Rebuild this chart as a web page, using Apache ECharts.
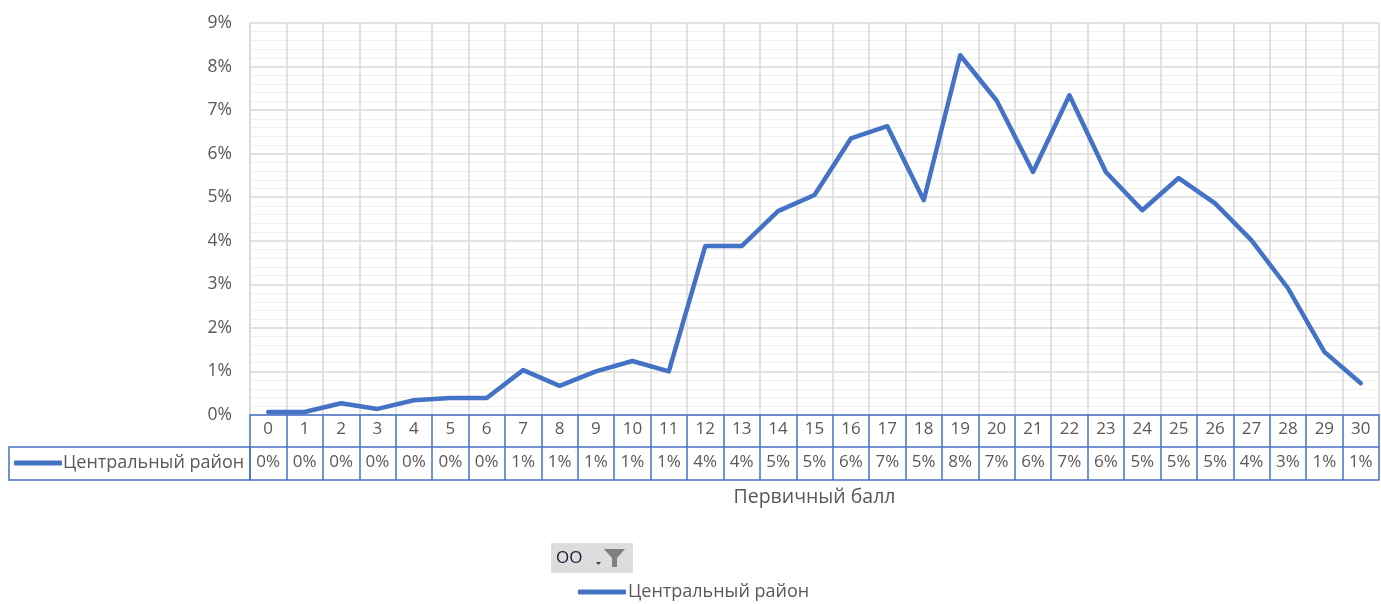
<!DOCTYPE html>
<html>
<head>
<meta charset="utf-8">
<script src="https://cdn.jsdelivr.net/npm/echarts@6/dist/echarts.min.js"></script>
<style>html,body{margin:0;padding:0;background:#fff}#c{width:1381px;height:604px}</style>
</head>
<body>
<div id="c"></div>
<script>
const categories = ['0','1','2','3','4','5','6','7','8','9','10','11','12','13','14','15','16','17','18','19','20','21','22','23','24','25','26','27','28','29','30'];
const seriesName = 'Центральный район';
const values = [0.07,0.07,0.27,0.14,0.34,0.39,0.39,1.03,0.67,1.0,1.24,1.0,3.88,3.88,4.68,5.05,6.35,6.63,4.93,8.26,7.22,5.58,7.34,5.58,4.7,5.44,4.86,4.01,2.91,1.45,0.73];
const yTicks = [0,1,2,3,4,5,6,7,8,9];
const axisTitle = 'Первичный балл';
const filterLabel = 'OO';

const tableLabels = values.map(v => Math.round(v) + '%');
const FONT = 'Open Sans';
const GRAY = '#595959';
const BLUE = '#4472C4';

const chart = echarts.init(document.getElementById('c'));
chart.setOption({
  animation: false,
  textStyle: {fontFamily: FONT},
  grid: {left: 250, right: 2, top: 23, bottom: 189, containLabel: false},
  legend: [
    {data: [seriesName], left: 14, top: 454, padding: 0, icon: 'roundRect', itemWidth: 48, itemHeight: 5, itemGap: 0,
     textStyle: {fontFamily: FONT, fontSize: 18, color: GRAY, padding: [0,0,0,-4]}},
    {data: [seriesName], left: 578, top: 583, padding: 0, icon: 'roundRect', itemWidth: 48, itemHeight: 5,
     textStyle: {fontFamily: FONT, fontSize: 18, color: GRAY, padding: [0,0,0,-3]}}
  ],
  xAxis: [
    {type: 'category', data: categories, position: 'bottom', boundaryGap: true,
     axisLine: {show: true, lineStyle: {color: BLUE, width: 1.5}},
     axisTick: {show: true, interval: 0, length: 65, lineStyle: {color: BLUE, width: 1.5}},
     axisLabel: {interval: 0, margin: 6, fontSize: 17, color: GRAY, fontFamily: FONT},
     splitLine: {show: true, interval: 0, lineStyle: {color: '#d9d9d9', width: 1.5}}},
    {type: 'category', data: categories, position: 'bottom', offset: 32, boundaryGap: true,
     axisLine: {show: true, lineStyle: {color: BLUE, width: 1.5}},
     axisTick: {show: false},
     axisLabel: {interval: 0, margin: 7, fontSize: 17, color: GRAY, fontFamily: FONT,
                 formatter: (v, i) => tableLabels[i]},
     splitLine: {show: false}},
    {type: 'category', data: categories, position: 'bottom', offset: 65, boundaryGap: true,
     axisLine: {show: true, lineStyle: {color: BLUE, width: 1.5}},
     axisTick: {show: false}, axisLabel: {show: false}, splitLine: {show: false},
     name: axisTitle, nameLocation: 'middle', nameGap: 7,
     nameTextStyle: {fontSize: 19.5, color: GRAY, fontFamily: FONT, verticalAlign: 'top'}}
  ],
  yAxis: {
    type: 'value', min: yTicks[0], max: yTicks[yTicks.length - 1], interval: 1,
    axisLine: {show: true, lineStyle: {color: '#d9d9d9', width: 1.5}},
    axisTick: {show: false},
    axisLabel: {margin: 18, fontSize: 17.5, color: GRAY, fontFamily: FONT, formatter: '{value}%'},
    splitLine: {show: true, lineStyle: {color: '#d9d9d9', width: 1.5}},
    minorTick: {show: false, splitNumber: 5},
    minorSplitLine: {show: true, lineStyle: {color: '#efefef', width: 1}}
  },
  series: [{
    name: seriesName, type: 'line', xAxisIndex: 0, data: values,
    symbol: 'none', smooth: false,
    lineStyle: {color: BLUE, width: 4.5, cap: 'round', join: 'round'},
    itemStyle: {color: BLUE}
  }],
  graphic: [
    {type: 'rect', shape: {x: 9, y: 447, width: 241, height: 33},
     style: {fill: 'none', stroke: BLUE, lineWidth: 1.5}, z: 10},
    {type: 'group', left: 551, top: 543, children: [
      {type: 'rect', shape: {x: 0, y: 0, width: 82, height: 30}, style: {fill: '#dddddd'}},
      {type: 'text', x: 5, y: 15, style: {text: filterLabel, font: '17px "Open Sans"', fill: '#1b1b33', verticalAlign: 'middle'}},
      {type: 'polygon', shape: {points: [[45,19],[50,19],[47.5,22]]}, style: {fill: '#404040'}},
      {type: 'polygon', shape: {points: [[53,6],[74,6],[66,15],[66,24],[61,24],[61,15]]}, style: {fill: '#7f7f7f'}}
    ]}
  ]
});
</script>
</body>
</html>
